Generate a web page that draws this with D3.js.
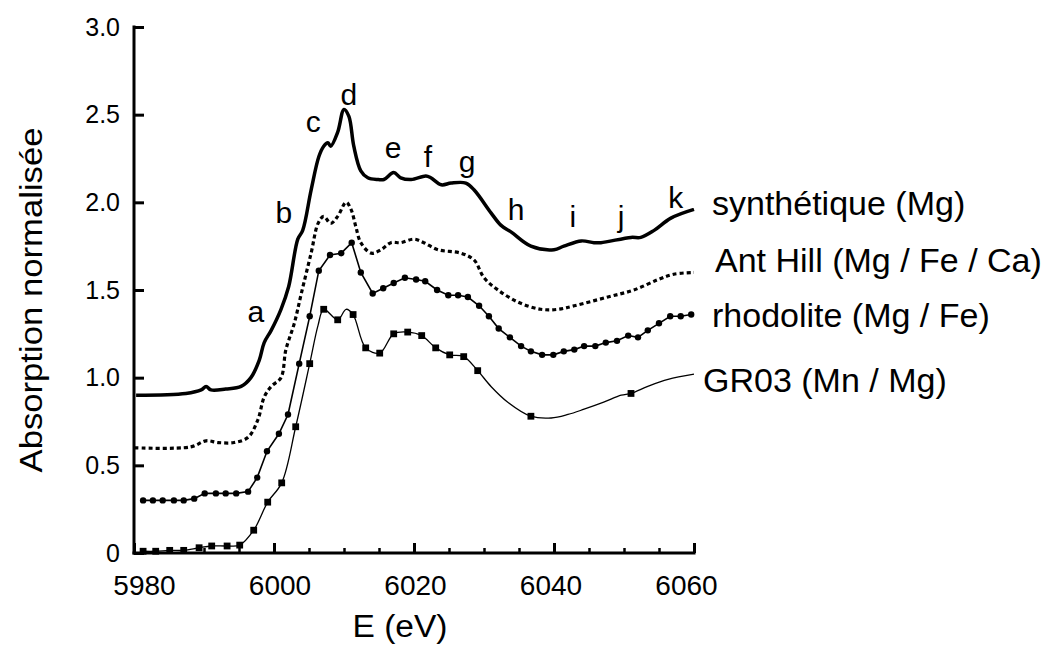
<!DOCTYPE html>
<html><head><meta charset="utf-8">
<script src="https://cdn.jsdelivr.net/npm/d3@7"></script>
<style>
body{margin:0;background:#fff}
svg{display:block}
text{font-family:"Liberation Sans",Arial,Helvetica,sans-serif;fill:#000}
</style>
</head><body>
<svg id="chart" width="1051" height="646"></svg>
<script>
// ---------- data (E in eV, normalised absorption) ----------
const synthetique = [
  [5980.3,0.90],[5987.4,0.91],[5989.6,0.93],[5990.3,0.95],[5991.0,0.93],[5993.1,0.935],
  [5995.3,0.95],[5996.7,1.00],[5997.9,1.10],[5998.6,1.20],[5999.6,1.27],[6001.0,1.39],
  [6002.1,1.52],[6003.4,1.79],[6004.1,1.84],[6005.3,2.07],[6006.4,2.26],[6007.1,2.32],
  [6007.7,2.34],[6008.1,2.32],[6009.1,2.40],[6010.0,2.53],[6010.7,2.49],[6011.4,2.32],
  [6012.4,2.18],[6013.4,2.14],[6014.9,2.13],[6015.7,2.13],[6017.1,2.17],[6018.1,2.14],
  [6019.6,2.13],[6021.7,2.15],[6022.4,2.14],[6023.9,2.10],[6025.3,2.11],[6027.4,2.11],
  [6028.6,2.07],[6031.0,1.94],[6032.4,1.87],[6033.9,1.83],[6036.7,1.75],[6040.0,1.73],
  [6041.4,1.75],[6043.9,1.78],[6045.7,1.77],[6046.7,1.77],[6051.0,1.80],[6052.4,1.80],
  [6054.3,1.84],[6056.7,1.91],[6060.0,1.96]
];
const antHill = [
  [5980.1,0.60],[5988.1,0.605],[5990.3,0.64],[5992.0,0.63],[5994.3,0.63],[5996.3,0.66],
  [5997.7,0.76],[5998.6,0.89],[5999.6,0.95],[6001.0,1.00],[6001.7,1.16],[6002.9,1.31],
  [6003.9,1.48],[6005.3,1.71],[6006.3,1.88],[6007.1,1.92],[6008.1,1.88],[6009.1,1.92],
  [6010.3,2.00],[6011.0,1.96],[6011.7,1.86],[6012.4,1.77],[6013.9,1.71],[6015.3,1.73],
  [6016.7,1.77],[6018.1,1.77],[6020.0,1.79],[6021.4,1.77],[6023.4,1.73],[6026.7,1.71],
  [6028.6,1.67],[6030.0,1.57],[6032.0,1.50],[6034.9,1.43],[6038.1,1.39],[6040.6,1.39],
  [6042.9,1.41],[6047.7,1.46],[6051.4,1.50],[6054.9,1.56],[6057.1,1.59],[6060.0,1.60]
];
const rhodolite = [
  [5981.3,0.30],[5982.7,0.30],[5984.1,0.30],[5985.7,0.30],[5987.1,0.30],[5988.6,0.31],
  [5990.1,0.34],[5991.7,0.34],[5993.1,0.34],[5994.6,0.34],[5996.3,0.35],[5997.6,0.43],
  [5999.0,0.58],[6000.7,0.68],[6002.0,0.79],[6003.6,1.08],[6005.1,1.35],[6006.4,1.61],
  [6008.0,1.70],[6009.6,1.71],[6011.1,1.77],[6012.4,1.60],[6014.1,1.48],[6015.6,1.51],
  [6017.1,1.54],[6018.7,1.57],[6020.3,1.56],[6021.6,1.55],[6023.3,1.50],[6024.9,1.47],
  [6026.3,1.47],[6027.7,1.46],[6029.3,1.41],[6030.7,1.35],[6032.1,1.28],[6033.7,1.23],
  [6035.3,1.18],[6036.7,1.15],[6038.3,1.13],[6039.9,1.13],[6041.4,1.15],[6042.9,1.16],
  [6044.3,1.18],[6045.9,1.18],[6047.4,1.20],[6049.0,1.21],[6050.6,1.24],[6052.0,1.23],
  [6053.4,1.27],[6055.0,1.31],[6056.6,1.35],[6058.1,1.35],[6059.6,1.36]
];
// third value: 1 = a square marker is drawn at that point
const gr03 = [
  [5981.3,0.01,1],[5983.1,0.01,1],[5985.1,0.015,1],[5987.1,0.015,1],[5989.3,0.03,1],
  [5991.1,0.04,1],[5993.3,0.04,1],[5995.1,0.045,1],[5997.1,0.13,1],[5999.1,0.29,1],
  [6001.1,0.40,1],[6003.1,0.72,1],[6005.1,1.08,1],[6006.3,1.30,0],[6007.1,1.39,1],
  [6009.1,1.33,1],[6010.3,1.39,0],[6011.3,1.36,1],[6013.1,1.17,1],[6015.1,1.14,1],
  [6017.1,1.25,1],[6019.1,1.26,1],[6021.1,1.24,1],[6023.1,1.17,1],[6025.1,1.13,1],
  [6027.1,1.12,1],[6029.1,1.04,1],[6031.0,0.95,0],[6033.4,0.86,0],[6036.7,0.78,1],
  [6039.6,0.77,0],[6042.0,0.79,0],[6044.3,0.82,0],[6047.1,0.86,0],[6049.6,0.90,0],
  [6051.0,0.91,1],[6053.4,0.95,0],[6056.3,0.99,0],[6060.0,1.02,0]
];
const seriesNames = ["synthétique (Mg)","Ant Hill (Mg / Fe / Ca)","rhodolite (Mg / Fe)","GR03 (Mn / Mg)"];
const peakLetters = ["a","b","c","d","e","f","g","h","i","j","k"];
const peakE = [5997.4,6001.4,6005.6,6010.7,6017.0,6022.0,6027.6,6034.6,6042.7,6049.6,6057.4];
const peakA = [1.318,1.882,2.401,2.555,2.253,2.202,2.174,1.899,1.860,1.860,1.967];
const xMajorTicks = [5980,6000,6020,6040,6060];
const xMinorTicks = d3.range(5980,6061,5);
const yTicks = [0,0.5,1.0,1.5,2.0,2.5,3.0];

// ---------- layout ----------
const svg = d3.select("#chart");
const x = d3.scaleLinear().domain([5980,6060]).range([134,694]);
const y = d3.scaleLinear().domain([0,3]).range([553,27]);
const xLabel = d3.scaleLinear().domain([5980,6060]).range([144,686]);

// y axis
const yAxis = d3.axisLeft(y).tickValues(yTicks).tickSizeInner(-10).tickSizeOuter(0).tickPadding(14)
  .tickFormat(d => d === 0 ? "0" : d3.format(".1f")(d));
const gy = svg.append("g").attr("transform",`translate(${x(5980)},0)`).call(yAxis);
gy.attr("font-size",null).attr("font-family",null);
gy.select(".domain").attr("stroke","#000").attr("stroke-width",3).attr("d",`M0,${y(3)-1.5}V${y(0)+1.5}`);
gy.selectAll(".tick line").attr("stroke","#000").attr("stroke-width",3);
gy.selectAll(".tick text").style("font-size","25px").attr("fill","#000");

// x axis minor
const xMinor = d3.axisBottom(x).tickValues(xMinorTicks).tickSizeInner(-5).tickSizeOuter(0).tickFormat("");
const gxm = svg.append("g").attr("transform",`translate(0,${y(0)})`).call(xMinor);
gxm.select(".domain").remove();
gxm.selectAll(".tick line").attr("stroke","#000").attr("stroke-width",2.5);
// x axis major
const xAxis = d3.axisBottom(x).tickValues(xMajorTicks).tickSizeInner(-10).tickSizeOuter(0).tickPadding(22)
  .tickFormat(d3.format("d"));
const gx = svg.append("g").attr("transform",`translate(0,${y(0)})`).call(xAxis);
gx.attr("font-size",null).attr("font-family",null);
gx.select(".domain").attr("stroke","#000").attr("stroke-width",3).attr("d",`M${x(5980)-1.5},0H${x(6060)+1.5}`);
gx.selectAll(".tick line").attr("stroke","#000").attr("stroke-width",3);
gx.selectAll(".tick text").style("font-size","28px").attr("fill","#000")
  .attr("dx", d => xLabel(d) - x(d));

// axis titles
svg.append("text").attr("transform",`translate(42,300) rotate(-90)`).attr("text-anchor","middle")
  .attr("font-size",32).attr("textLength",345).attr("lengthAdjust","spacingAndGlyphs").text("Absorption normalisée");
svg.append("text").attr("x",400).attr("y",637).attr("text-anchor","middle")
  .attr("font-size",31).attr("textLength",95).attr("lengthAdjust","spacingAndGlyphs").text("E (eV)");

// ---------- series ----------
const smooth = d3.line().x(d => x(d[0])).y(d => y(d[1])).curve(d3.curveCatmullRom.alpha(0.5));
const straight = d3.line().x(d => x(d[0])).y(d => y(d[1]));

svg.append("path").datum(gr03).attr("d",smooth).attr("fill","none").attr("stroke","#000").attr("stroke-width",1.3);
svg.append("g").selectAll("rect").data(gr03.filter(d => d[2] === 1)).join("rect")
  .attr("x", d => x(d[0]) - 3.4).attr("y", d => y(d[1]) - 3.4).attr("width",6.8).attr("height",6.8).attr("fill","#000");

svg.append("path").datum(rhodolite).attr("d",straight).attr("fill","none").attr("stroke","#000").attr("stroke-width",1.6);
svg.append("g").selectAll("circle").data(rhodolite).join("circle")
  .attr("cx", d => x(d[0])).attr("cy", d => y(d[1])).attr("r",3.2).attr("fill","#000");

svg.append("path").datum(antHill).attr("d",smooth).attr("fill","none").attr("stroke","#000")
  .attr("stroke-width",3.2).attr("stroke-dasharray","4,3");

svg.append("path").datum(synthetique).attr("d",smooth).attr("fill","none").attr("stroke","#000")
  .attr("stroke-width",3.5).attr("stroke-linejoin","round");

// peak letters
svg.append("g").selectAll("text").data(peakLetters).join("text")
  .attr("x",(d,i) => x(peakE[i])).attr("y",(d,i) => y(peakA[i])).attr("text-anchor","middle")
  .attr("font-size",30).text(d => d);

// series labels
const labelPos = [[712,215],[715,272],[712,327],[703,392]];
svg.append("g").selectAll("text").data(seriesNames).join("text")
  .attr("x",(d,i) => labelPos[i][0]).attr("y",(d,i) => labelPos[i][1])
  .attr("font-size",34).text(d => d);
</script>
</body></html>
